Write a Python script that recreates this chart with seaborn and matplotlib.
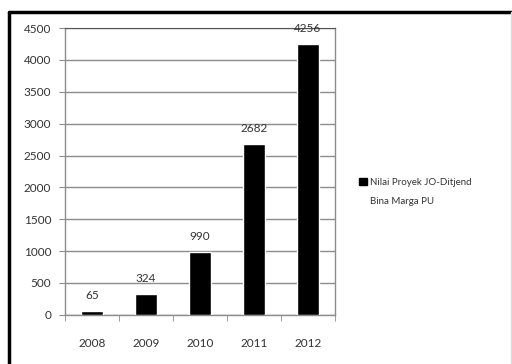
import pandas as pd
import matplotlib.pyplot as plt
import seaborn as sns
from matplotlib.patches import Patch
from matplotlib.lines import Line2D

tahun = ['2008', '2009', '2010', '2011', '2012']
nilai = [65, 324, 990, 2682, 4256]
y_ticks = [0, 500, 1000, 1500, 2000, 2500, 3000, 3500, 4000, 4500]
label_seri = ['Nilai Proyek JO-Ditjend', 'Bina Marga PU']

df = pd.DataFrame({'tahun': tahun, 'nilai': nilai})

sns.set_style('white')
plt.rcParams['font.family'] = ['Lato', 'DejaVu Sans']

fig = plt.figure(figsize=(5.12, 3.64), dpi=100)
ax = fig.add_axes([0.127, 0.135, 0.527, 0.788])

sns.barplot(data=df, x='tahun', y='nilai', color='black', width=0.4,
            saturation=1, ax=ax, zorder=3)

ax.set_ylim(0, 4500)
ax.set_xlim(-0.5, len(tahun) - 0.5)
ax.set_yticks(y_ticks)
ax.set_xlabel('')
ax.set_ylabel('')
ax.yaxis.grid(True, color='#8c8c8c', linewidth=1, zorder=0)

# label nilai di atas batang
ax.bar_label(ax.containers[0], labels=[str(v) for v in nilai], padding=7,
             fontsize=8.5, color='#333333')

# tick x di batas antar kategori
ax.set_xticks(range(len(tahun)))
ax.set_xticklabels(tahun)
ax.set_xticks([i - 0.5 for i in range(len(tahun) + 1)], minor=True)
ax.tick_params(axis='x', which='major', length=0, pad=17, labelsize=8.5,
               labelcolor='#333333')
ax.tick_params(axis='x', which='minor', length=4, color='#8c8c8c',
               direction='out', bottom=True)
ax.tick_params(axis='y', length=4, color='#8c8c8c', direction='out', left=True,
               labelsize=8.5, labelcolor='#333333', pad=6)

for s in ['left', 'right', 'bottom']:
    ax.spines[s].set_visible(True)
    ax.spines[s].set_color('#8c8c8c')
    ax.spines[s].set_linewidth(1)
ax.spines['top'].set_color('#555555')

handles = [Patch(facecolor='black', edgecolor='black'),
           Patch(facecolor='none', edgecolor='none')]
fig.legend(handles, label_seri, loc='upper left',
           bbox_to_anchor=(0.685, 0.535), frameon=False, fontsize=7,
           handlelength=0.8, handleheight=0.8, handletextpad=0.3,
           labelspacing=1.0, labelcolor='#333333')

# bingkai luar gambar
fig.add_artist(Line2D([0.017, 1.0], [0.968, 0.968], color='black', linewidth=2.5))
fig.add_artist(Line2D([0.018, 0.018], [0.0, 0.968], color='black', linewidth=2.5))
fig.add_artist(Line2D([0.998, 0.998], [0.0, 0.968], color='#dddddd', linewidth=1))

fig.savefig('out.png', dpi=100)
